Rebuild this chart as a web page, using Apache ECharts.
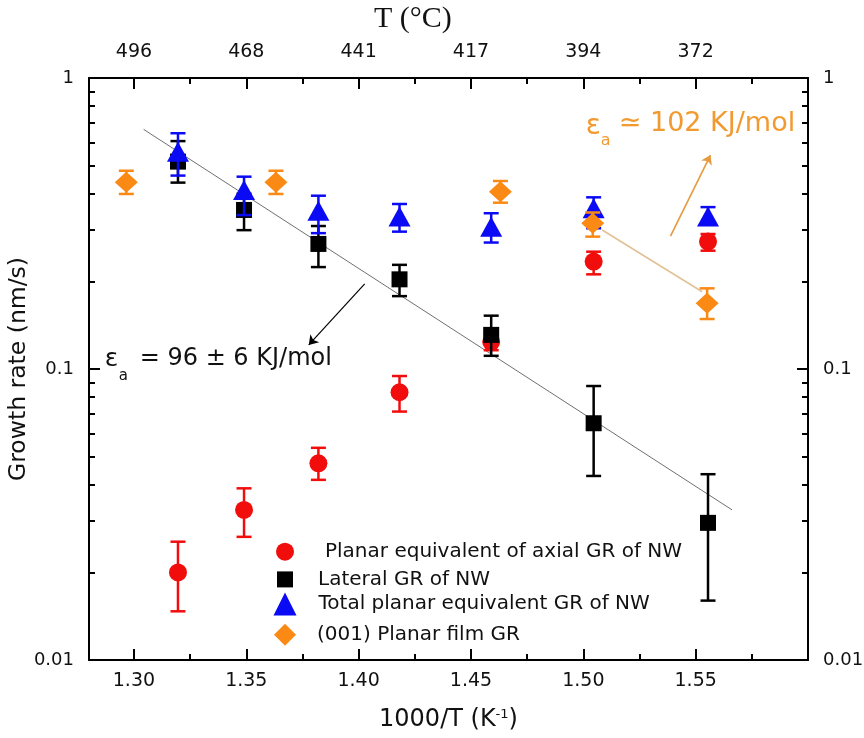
<!DOCTYPE html>
<html><head><meta charset="utf-8">
<script src="https://cdn.jsdelivr.net/npm/echarts@6/dist/echarts.min.js"></script>
<style>html,body{margin:0;padding:0;background:#fff}#c{width:864px;height:738px}</style>
</head><body><div id="c"></div>
<script>
// ---------- data ----------
const xNW   = [1.3196, 1.3490, 1.3821, 1.4182, 1.4590, 1.5046, 1.5555];   // 1000/T (K^-1)
const xFilm = [1.2966, 1.3632, 1.4631, 1.5042, 1.5551];

const axialGR  = [0.0200, 0.0328, 0.0474, 0.0832, 0.124, 0.234, 0.274];
const axialLo  = [0.0147, 0.0265, 0.0416, 0.0714, 0.116, 0.2115, 0.255];
const axialHi  = [0.0255, 0.0389, 0.0536, 0.0946, 0.132, 0.253, 0.291];

const lateralGR = [0.516, 0.352, 0.269, 0.2033, 0.131, 0.0651, 0.0296];
const lateralLo = [0.437, 0.300, 0.224, 0.178, 0.111, 0.0429, 0.0160];
const lateralHi = [0.607, 0.400, 0.310, 0.228, 0.1525, 0.0874, 0.0435];

const totalGR = [0.558, 0.412, 0.350, 0.334, 0.308, 0.357, 0.334];
const totalLo = [0.462, 0.338, 0.293, 0.2965, 0.272, 0.3045, 0.315];
const totalHi = [0.646, 0.458, 0.394, 0.369, 0.343, 0.389, 0.360];

const filmGR = [0.438, 0.438, 0.4067, 0.3167, 0.1682];
const filmLo = [0.3995, 0.3995, 0.3728, 0.285, 0.1485];
const filmHi = [0.480, 0.480, 0.4426, 0.345, 0.1893];

const fitX = [1.3043, 1.5662];
const fitY = [0.666, 0.0328];

const seriesNames = ['Planar equivalent of axial GR of NW', 'Lateral GR of NW',
                     'Total planar equivalent GR of NW', '(001) Planar film GR'];

const xTickVals   = [1.30, 1.35, 1.40, 1.45, 1.50, 1.55];
const xTickLabels = ['1.30', '1.35', '1.40', '1.45', '1.50', '1.55'];
const xMinorVals  = [1.325, 1.375, 1.425, 1.475, 1.525, 1.575];
const topTickLabels = ['496', '468', '441', '417', '394', '372'];
const yTickVals   = [0.01, 0.1, 1];
const yTickLabels = ['0.01', '0.1', '1'];
const yMinorVals  = [0.02, 0.03, 0.04, 0.05, 0.06, 0.07, 0.08, 0.09,
                     0.2, 0.3, 0.4, 0.5, 0.6, 0.7, 0.8, 0.9];

// annotation arrows / lines in data space
const blackArrow  = [[1.4027, 0.196], [1.3778, 0.121]];
const orangeArrow = [[1.5388, 0.2864], [1.5566, 0.5436]];
const orangeGuide = [[1.5084, 0.3003], [1.5529, 0.1843]];
const blackNoteAt  = [1.2870, 0.1074];
const orangeNoteAt = [1.5011, 0.679];

// ---------- styling ----------
const FONT = 'DejaVu Sans';
const TXT = '#111';
const RED = '#f20d0d', BLACK = '#000000', BLUE = '#0a0af5', ORANGE = '#fb8a14';
const ORANGE_TXT = '#f29a30';

function nearest(arr, v, log) {
  let b = 0, bd = Infinity;
  arr.forEach((t, i) => {
    const d = log ? Math.abs(Math.log10(t) - Math.log10(v)) : Math.abs(t - v);
    if (d < bd) { bd = d; b = i; }
  });
  return b;
}

const lineStyle = { color: '#000', width: 2 };
function xAxisDef(position, major, withLabels) {
  return {
    type: 'value', position, min: 1.28, max: 1.60,
    axisLine: { show: major, lineStyle },
    splitLine: { show: false },
    axisTick: { show: true, inside: true, length: major ? 11 : 6, lineStyle: { color: '#000', width: 2 },
                customValues: major ? xTickVals : xMinorVals },
    axisLabel: withLabels ? {
      show: true, customValues: xTickVals, fontFamily: FONT, fontSize: 19, color: TXT,
      margin: position === 'bottom' ? 12 : 16,
      formatter: v => position === 'bottom' ? xTickLabels[nearest(xTickVals, v)] : topTickLabels[nearest(xTickVals, v)]
    } : { show: false }
  };
}
function yAxisDef(position, major) {
  return {
    type: 'log', logBase: 10, position, min: 0.01, max: 1,
    axisLine: { show: major, lineStyle },
    splitLine: { show: false },
    minorTick: { show: false },
    axisTick: { show: true, inside: true, length: major ? 11 : 6, lineStyle: { color: '#000', width: 2 },
                customValues: major ? yTickVals : yMinorVals },
    axisLabel: major ? {
      show: true, customValues: yTickVals, fontFamily: FONT, fontSize: 18, color: TXT, margin: 15,
      formatter: v => yTickLabels[nearest(yTickVals, v, true)]
    } : { show: false }
  };
}

function errSeries(name, xs, lo, hi, color, z) {
  return {
    name, type: 'custom', xAxisIndex: 0, yAxisIndex: 0, z, silent: true,
    data: xs.map((x, i) => [x, lo[i], hi[i]]),
    encode: { x: 0, y: [1, 2] },
    renderItem: (params, api) => {
      const x = api.value(0);
      const t = api.coord([x, api.value(2)]);
      const b = api.coord([x, api.value(1)]);
      const hw = 7.5;
      const st = { stroke: color, lineWidth: 2.5 };
      return { type: 'group', children: [
        { type: 'line', shape: { x1: t[0], y1: t[1], x2: b[0], y2: b[1] }, style: st },
        { type: 'line', shape: { x1: t[0] - hw, y1: t[1], x2: t[0] + hw, y2: t[1] }, style: st },
        { type: 'line', shape: { x1: b[0] - hw, y1: b[1], x2: b[0] + hw, y2: b[1] }, style: st }
      ]};
    }
  };
}
function dotSeries(name, xs, ys, symbol, size, color, z) {
  return {
    name, type: 'scatter', xAxisIndex: 0, yAxisIndex: 0, z, symbol, symbolSize: size,
    itemStyle: { color, opacity: 1 }, emphasis: { disabled: true },
    data: xs.map((x, i) => [x, ys[i]])
  };
}
function legendDef(name, h, center, pad) {
  return {
    data: [name], orient: 'vertical', selectedMode: false, padding: 0,
    left: 285 - h / 2, top: center - 12, itemWidth: h, itemHeight: h,
    textStyle: { fontFamily: FONT, fontSize: 20, color: TXT, lineHeight: 24, padding: [0, 0, 0, pad] }
  };
}

const chart = echarts.init(document.getElementById('c'));
chart.setOption({
  animation: false,
  backgroundColor: '#fff',
  title: {
    text: 'T (°C)', left: 374, top: 4, padding: 0,
    textStyle: { fontFamily: 'Liberation Serif', fontSize: 30, fontWeight: 'normal', color: TXT }
  },
  grid: { left: 89, right: 56, top: 78, bottom: 78, containLabel: false, outerBoundsMode: 'none' },
  legend: [
    legendDef(seriesNames[0], 18, 551.7, 26),
    legendDef(seriesNames[1], 16, 579.4, 20),
    legendDef(seriesNames[2], 23, 604, 17),
    legendDef(seriesNames[3], 22, 634.8, 16)
  ],
  xAxis: [
    Object.assign(xAxisDef('bottom', true, true), {
      name: '1000/T (K{sup|-1})', nameLocation: 'middle', nameGap: 48, nameMoveOverlap: false,
      nameTextStyle: { fontFamily: FONT, fontSize: 24, color: TXT,
        rich: { sup: { fontFamily: FONT, fontSize: 13, color: TXT, verticalAlign: 'top' } } }
    }),
    xAxisDef('bottom', false, false),
    xAxisDef('top', true, true),
    xAxisDef('top', false, false)
  ],
  yAxis: [
    Object.assign(yAxisDef('left', true), {
      name: 'Growth rate (nm/s)', nameLocation: 'middle', nameGap: 58, nameRotate: 90, nameMoveOverlap: false,
      nameTextStyle: { fontFamily: FONT, fontSize: 23.5, color: TXT }
    }),
    yAxisDef('right', true),
    yAxisDef('left', false),
    yAxisDef('right', false)
  ],
  series: [
    {
      name: 'fit', type: 'line', xAxisIndex: 0, yAxisIndex: 0, z: 1, silent: true,
      symbol: 'none', lineStyle: { color: '#707070', width: 1 },
      data: fitX.map((x, i) => [x, fitY[i]]),
      markLine: {
        silent: true, animation: false, symbol: ['none', 'arrow'], symbolSize: 9,
        label: { show: false },
        data: [
          [{ coord: blackArrow[0], lineStyle: { color: '#000', width: 1.2, type: 'solid' }, itemStyle: { color: '#000' } },
           { coord: blackArrow[1] }],
          [{ coord: orangeArrow[0], lineStyle: { color: '#e6993d', width: 1.6, type: 'solid' }, itemStyle: { color: '#e6993d' } },
           { coord: orangeArrow[1] }],
          [{ coord: orangeGuide[0], symbol: 'none', lineStyle: { color: '#e2c295', width: 1.6, type: 'solid' } },
           { coord: orangeGuide[1], symbol: 'none' }]
        ]
      }
    },
    errSeries('errAxial', xNW, axialLo, axialHi, RED, 2),
    dotSeries(seriesNames[0], xNW, axialGR, 'circle', 18, RED, 3),
    errSeries('errLateral', xNW, lateralLo, lateralHi, BLACK, 4),
    dotSeries(seriesNames[1], xNW, lateralGR, 'rect', 16, BLACK, 5),
    errSeries('errTotal', xNW, totalLo, totalHi, BLUE, 6),
    dotSeries(seriesNames[2], xNW, totalGR, 'triangle', [22, 20], BLUE, 7),
    errSeries('errFilm', xFilm, filmLo, filmHi, ORANGE, 8),
    dotSeries(seriesNames[3], xFilm, filmGR, 'diamond', [23, 21], ORANGE, 9)
  ]
});

// text annotations anchored to data coordinates
const pb = chart.convertToPixel({ xAxisIndex: 0, yAxisIndex: 0 }, blackNoteAt);
const po = chart.convertToPixel({ xAxisIndex: 0, yAxisIndex: 0 }, orangeNoteAt);
function t(x, y, text, size, color) {
  return { type: 'text', x, y, silent: true, z: 50,
    style: { text, fontFamily: FONT, fontSize: size, fill: color, align: 'left', verticalAlign: 'middle' } };
}
chart.setOption({
  graphic: [
    t(pb[0], pb[1], 'ε', 25, TXT),
    t(pb[0] + 14, pb[1] + 16, 'a', 15, TXT),
    t(pb[0] + 35, pb[1] - 1, '= 96 ± 6 KJ/mol', 24, TXT),
    t(po[0], po[1], 'ε', 28, ORANGE_TXT),
    t(po[0] + 15, po[1] + 14, 'a', 16, ORANGE_TXT),
    t(po[0] + 33, po[1] - 3, '≃ 102 KJ/mol', 27, ORANGE_TXT)
  ]
});
</script>
</body></html>
